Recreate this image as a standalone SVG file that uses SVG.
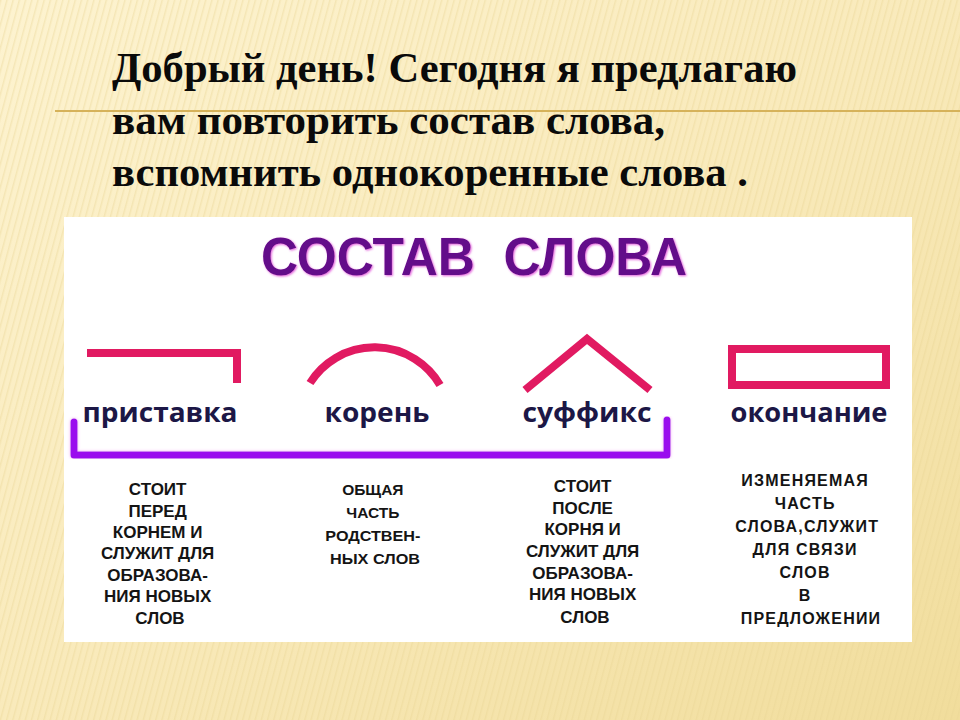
<svg xmlns="http://www.w3.org/2000/svg" width="960" height="720" viewBox="0 0 960 720">
  <defs>
    <linearGradient id="bg" x1="0" y1="0" x2="1" y2="1">
      <stop offset="0" stop-color="#fdf3d0"/>
      <stop offset="0.5" stop-color="#f9eabb"/>
      <stop offset="1" stop-color="#f1dd9c"/>
    </linearGradient>
    <pattern id="stripes" width="6" height="40" patternUnits="userSpaceOnUse" patternTransform="rotate(15)">
      <rect x="0" y="0" width="1.5" height="40" fill="#e8d494" opacity="0.4"/>
    </pattern>
    <filter id="glow" x="-10%" y="-10%" width="120%" height="120%">
      <feDropShadow dx="0" dy="0" stdDeviation="1.6" flood-color="#f29af0" flood-opacity="0.9"/>
    </filter>
    <filter id="titleglow" x="-5%" y="-20%" width="110%" height="140%">
      <feDropShadow dx="1" dy="1" stdDeviation="1.2" flood-color="#e04fd8" flood-opacity="0.9"/>
    </filter>
  </defs>
  <style>
    .head { font-family: "Liberation Serif", "Times New Roman", serif; font-weight: bold; font-size: 43px; fill: #0a0a0a; }
    .part { fill: none; stroke: #e11a61; stroke-width: 8; stroke-linecap: butt; stroke-linejoin: miter; }
    .label { font-family: "Open Sans", "DejaVu Sans", sans-serif; font-weight: bold; font-size: 27px; fill: #1c1746; text-anchor: middle; }
    .desc { font-family: "Liberation Sans", Arial, sans-serif; font-weight: bold; font-size: 17px; fill: #141414; text-anchor: middle; }
    .desc2 { font-family: "Liberation Sans", Arial, sans-serif; font-weight: bold; font-size: 15.5px; fill: #141414; text-anchor: middle; }
    .desc4 { font-family: "Liberation Sans", Arial, sans-serif; font-weight: bold; font-size: 16px; letter-spacing: 1.2px; fill: #141414; text-anchor: middle; }
  </style>

  <!-- background -->
  <rect x="0" y="0" width="960" height="720" fill="url(#bg)"/>
  <rect x="0" y="0" width="960" height="720" fill="url(#stripes)"/>
  <line x1="55" y1="111" x2="960" y2="111" stroke="#d6b25a" stroke-width="2"/>

  <!-- heading -->
  <g id="heading">
    <text class="head" x="112" y="82" textLength="685" lengthAdjust="spacingAndGlyphs">Добрый день! Сегодня я предлагаю</text>
    <text class="head" x="112" y="134" textLength="553" lengthAdjust="spacingAndGlyphs">вам повторить состав слова,</text>
    <text class="head" x="112" y="186" textLength="636" lengthAdjust="spacingAndGlyphs">вспомнить однокоренные слова .</text>
  </g>

  <!-- white panel -->
  <rect x="64" y="217" width="848" height="425" fill="#ffffff"/>

  <g id="title">
    <text x="261" y="275" textLength="426" lengthAdjust="spacingAndGlyphs" filter="url(#titleglow)" font-family="Liberation Sans, Arial, sans-serif" font-weight="bold" font-size="53" fill="#640c8a" xml:space="preserve">СОСТАВ  СЛОВА</text>
  </g>

  <g id="prefix">
    <path class="part" d="M87 353 H237 V383"/>
    <text class="label" x="160" y="422" textLength="155" lengthAdjust="spacingAndGlyphs">приставка</text>
    <text class="desc" x="160">
      <tspan x="160" y="495">СТОИТ</tspan>
      <tspan x="160" y="517">ПЕРЕД</tspan>
      <tspan x="160" y="538">КОРНЕМ И</tspan>
      <tspan x="160" y="559">СЛУЖИТ ДЛЯ</tspan>
      <tspan x="160" y="581">ОБРАЗОВА-</tspan>
      <tspan x="160" y="602">НИЯ НОВЫХ</tspan>
      <tspan x="160" y="624">СЛОВ</tspan>
    </text>
  </g>

  <g id="root">
    <path class="part" d="M310 383 A76 76 0 0 1 440 385" stroke-linecap="round"/>
    <text class="label" x="377" y="422" textLength="105" lengthAdjust="spacingAndGlyphs">корень</text>
    <text class="desc2" x="375">
      <tspan x="375" y="495">ОБЩАЯ</tspan>
      <tspan x="375" y="518">ЧАСТЬ</tspan>
      <tspan x="375" y="541" textLength="95" lengthAdjust="spacingAndGlyphs">РОДСТВЕН-</tspan>
      <tspan x="375" y="564" textLength="90" lengthAdjust="spacingAndGlyphs">НЫХ СЛОВ</tspan>
    </text>
  </g>

  <g id="suffix">
    <path class="part" d="M525 390 L587 339 L650 390"/>
    <text class="label" x="587" y="422" textLength="129" lengthAdjust="spacingAndGlyphs">суффикс</text>
    <text class="desc" x="585">
      <tspan x="585" y="492">СТОИТ</tspan>
      <tspan x="585" y="514">ПОСЛЕ</tspan>
      <tspan x="585" y="535">КОРНЯ И</tspan>
      <tspan x="585" y="557">СЛУЖИТ ДЛЯ</tspan>
      <tspan x="585" y="579">ОБРАЗОВА-</tspan>
      <tspan x="585" y="600">НИЯ НОВЫХ</tspan>
      <tspan x="585" y="623">СЛОВ</tspan>
    </text>
  </g>

  <g id="ending">
    <rect class="part" x="732" y="349" width="154" height="36"/>
    <text class="label" x="809" y="422" textLength="157" lengthAdjust="spacingAndGlyphs">окончание</text>
    <text class="desc4" x="808">
      <tspan x="808" y="486">ИЗМЕНЯЕМАЯ</tspan>
      <tspan x="808" y="509">ЧАСТЬ</tspan>
      <tspan x="810" y="532">СЛОВА,СЛУЖИТ</tspan>
      <tspan x="808" y="555">ДЛЯ СВЯЗИ</tspan>
      <tspan x="808" y="578">СЛОВ</tspan>
      <tspan x="808" y="601">В</tspan>
      <tspan x="811" y="624">ПРЕДЛОЖЕНИИ</tspan>
    </text>
  </g>

  <g id="connectors">
    <path d="M74 422 V455 H667 V420" fill="none" stroke="#9a10ee" stroke-width="7" stroke-linecap="round" stroke-linejoin="round" filter="url(#glow)"/>
  </g>
</svg>
